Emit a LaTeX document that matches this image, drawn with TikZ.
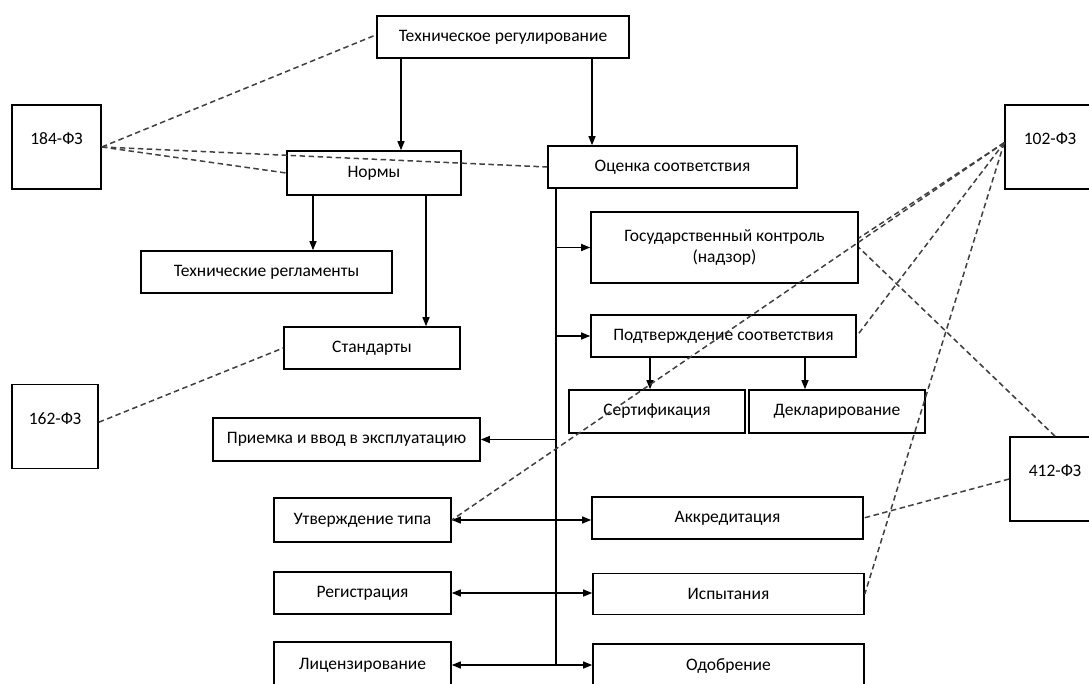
\documentclass[tikz,border=0pt]{standalone}
\usepackage{fontspec}
\setmainfont{Carlito}
\usetikzlibrary{arrows.meta,calc}
\begin{document}
\begin{tikzpicture}[x=1pt,y=-1pt,
  box/.style={draw=black,line width=1.6pt,inner sep=0pt,align=center,
    font=\fontsize{17.5}{21.5}\selectfont},
  law/.style={box,minimum width=#1,minimum height=84pt},
  conn/.style={draw=black,line width=1.3pt},
  arr/.style={conn,-{Triangle[length=9pt,width=7pt]}},
  darr/.style={conn,{Triangle[length=9pt,width=7pt]}-{Triangle[length=9pt,width=7pt]}},
  dashln/.style={draw=black!75,line width=1.5pt,dash pattern=on 5.5pt off 3.5pt}]
\path[use as bounding box] (0,0) rectangle (1089,684);
\clip (0,0) rectangle (1089,684);
\fill[white] (0,0) rectangle (1089,684);
% guides
\coordinate (gA) at (401,0);
\coordinate (gB) at (592,0);
\coordinate (gC) at (313,0);
\coordinate (gD) at (426,0);
\coordinate (gT) at (556,0);
\coordinate (gE) at (650,0);
\coordinate (gF) at (805,0);
% boxes
\node[box,minimum width=252pt,minimum height=42pt] (tr) at (503,37) {Техническое регулирование};
\node[law=89pt] (f184) at (56.5,147) {\raisebox{8pt}[\height][\depth]{184-ФЗ}};
\node[box,minimum width=174pt,minimum height=44pt] (nr) at (374,173) {Нормы};
\node[box,minimum width=249pt,minimum height=42pt] (oc) at (672.5,167) {Оценка соответствия};
\node[law=90pt] (f102) at (1050,147) {\raisebox{8pt}[\height][\depth]{102-ФЗ}};
\node[box,minimum width=267pt,minimum height=71pt] (gk) at (724.5,247.5) {Государственный контроль\\(надзор)};
\node[box,minimum width=251pt,minimum height=42pt] (treg) at (266.5,272) {Технические регламенты};
\node[box,minimum width=176pt,minimum height=42pt] (st) at (372,348) {Стандарты};
\node[box,minimum width=265pt,minimum height=42pt] (pc) at (723.5,336) {Подтверждение соответствия};
\node[law=86pt] (f162) at (55,426.5) {\raisebox{8pt}[\height][\depth]{162-ФЗ}};
\node[box,minimum width=176pt,minimum height=43pt] (sert) at (657,411.5) {Сертификация};
\node[box,minimum width=176pt,minimum height=43pt] (decl) at (837,411.5) {Декларирование};
\node[box,minimum width=267pt,minimum height=43pt] (pr) at (346.5,439.5) {Приемка и ввод в эксплуатацию};
\node[law=90pt] (f412) at (1055,479) {\raisebox{8pt}[\height][\depth]{412-ФЗ}};
\node[box,minimum width=177pt,minimum height=44pt] (ut) at (362.5,520) {Утверждение типа};
\node[box,minimum width=271pt,minimum height=42pt] (ak) at (727.5,518) {Аккредитация};
\node[box,minimum width=177pt,minimum height=42pt] (reg) at (362.5,593) {Регистрация};
\node[box,minimum width=271pt,minimum height=41pt] (isp) at (728.5,594) {Испытания};
\node[box,minimum width=177pt,minimum height=46pt] (lic) at (362.5,665) {Лицензирование};
\node[box,minimum width=271pt,minimum height=44pt] (od) at (728.5,666) {Одобрение};
% solid connectors
\draw[arr] (tr.south -| gA) -- (nr.north -| gA);
\draw[arr] (tr.south -| gB) -- (oc.north -| gB);
\draw[arr] (nr.south -| gC) -- (treg.north -| gC);
\draw[arr] (nr.south -| gD) -- (st.north -| gD);
\draw[conn] (oc.south -| gT) -- (lic.east -| gT);
\draw[arr] (gk.west -| gT) -- (gk.west);
\draw[arr] (pc.west -| gT) -- (pc.west);
\draw[arr] (pr.east -| gT) -- (pr.east);
\draw[darr] (ut.east) -- (ak.west |- ut.east);
\draw[darr] (reg.east) -- (isp.west |- reg.east);
\draw[darr] (lic.east) -- (od.west |- lic.east);
\draw[arr] (pc.south -| gE) -- (sert.north -| gE);
\draw[arr] (pc.south -| gF) -- (decl.north -| gF);
% dashed links
\draw[dashln] (f184.east) -- ($(tr.north west)!0.45!(tr.south west)$);
\draw[dashln] (f184.east) -- (nr.west);
\draw[dashln] (f184.east) -- (oc.west);
\draw[dashln] ($(f162.north east)!0.45!(f162.south east)$) -- (st.west);
\draw[dashln] ($(f102.north west)!0.45!(f102.south west)$) -- ($(gk.north east)!0.37!(gk.south east)$);
\draw[dashln] ($(f102.north west)!0.45!(f102.south west)$) -- (ut.east);
\draw[dashln] ($(f102.north west)!0.45!(f102.south west)$) -- (pc.east);
\draw[dashln] ($(f102.north west)!0.45!(f102.south west)$) -- (isp.east);
\draw[dashln] (f412.north) -- (gk.east);
\draw[dashln] ($(f412.north west)!0.5!(f412.south west)$) -- (ak.east);
\end{tikzpicture}
\end{document}
